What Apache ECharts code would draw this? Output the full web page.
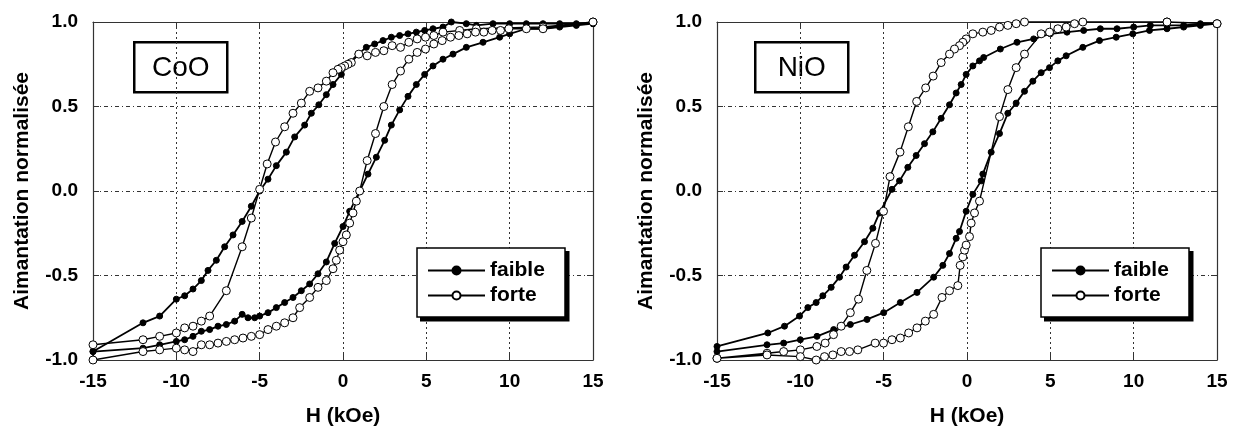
<!DOCTYPE html>
<html><head><meta charset="utf-8">
<script src="https://cdn.jsdelivr.net/npm/echarts@6/dist/echarts.min.js"></script>
<style>html,body{margin:0;padding:0;background:#fff}#c{width:1240px;height:434px}</style>
</head><body><div id="c"></div>
<script>
// ---------- data (H in kOe, normalised magnetisation) ----------
const xTicks = [-15, -10, -5, 0, 5, 10, 15];
const yTicks = [-1.0, -0.5, 0.0, 0.5, 1.0];
const panelLabels = ['CoO', 'NiO'];
const seriesNames = ['faible', 'forte'];
const xAxisTitle = 'H (kOe)';
const yAxisTitle = 'Aimantation normalisée';

// CoO - faible (descending then ascending branch)
const coFaibleDownH = [15, 14, 13, 12, 11, 10, 9, 8, 7.4, 6.5, 6, 5.4, 4.9, 4.4, 3.9, 3.4, 2.9, 2.4, 1.9, 1.4, 0.9, 0.4, -0.1, -0.6, -1.0, -1.45, -1.9, -2.3, -2.9, -3.4, -4.0, -4.5, -5.0, -5.5, -6.05, -6.6, -7.1, -7.6, -8.1, -8.5, -9.0, -9.5, -10, -11, -12, -15];
const coFaibleDownM = [0.99, 0.99, 0.99, 0.99, 0.99, 0.99, 0.99, 0.98, 0.99, 1.0, 0.97, 0.96, 0.95, 0.94, 0.93, 0.92, 0.91, 0.89, 0.87, 0.85, 0.81, 0.76, 0.69, 0.63, 0.57, 0.51, 0.46, 0.39, 0.32, 0.23, 0.15, 0.07, 0.0, -0.09, -0.18, -0.26, -0.33, -0.41, -0.47, -0.53, -0.58, -0.62, -0.64, -0.74, -0.78, -0.95];
const coFaibleUpH = [-15, -12, -11, -10, -9.5, -9, -8.5, -8, -7.5, -7, -6.5, -6.05, -5.7, -5.3, -5, -4.5, -4, -3.5, -3, -2.5, -2, -1.5, -1, -0.5, 0, 0.4, 1.0, 1.5, 2.0, 2.5, 2.9, 3.4, 3.9, 4.4, 4.9, 5.4, 6.0, 6.6, 7.4, 8.4, 9.4, 10, 11, 12, 13, 14, 15];
const coFaibleUpM = [-0.95, -0.93, -0.91, -0.89, -0.88, -0.86, -0.83, -0.82, -0.80, -0.79, -0.77, -0.73, -0.75, -0.75, -0.74, -0.72, -0.69, -0.66, -0.63, -0.59, -0.55, -0.49, -0.42, -0.31, -0.21, -0.12, 0.0, 0.10, 0.20, 0.30, 0.39, 0.48, 0.56, 0.63, 0.69, 0.74, 0.78, 0.81, 0.85, 0.88, 0.91, 0.93, 0.96, 0.96, 0.97, 0.98, 0.99];

// CoO - forte
const coForteDownH = [15, 12, 8, 7, 6, 5.45, 4.95, 4.45, 3.95, 3.45, 2.95, 2.45, 1.95, 1.45, 0.95, 0.5, 0.3, 0.1, -0.1, -0.3, -0.6, -1.0, -1.5, -2.0, -2.5, -3.0, -3.5, -4.05, -4.55, -5.0, -5.5, -6.05, -7.0, -8.0, -8.5, -9.0, -9.5, -10, -11, -12, -15];
const coForteDownM = [1.0, 0.97, 0.96, 0.95, 0.94, 0.92, 0.91, 0.90, 0.88, 0.85, 0.86, 0.83, 0.82, 0.80, 0.81, 0.76, 0.75, 0.74, 0.73, 0.72, 0.70, 0.65, 0.61, 0.59, 0.52, 0.46, 0.38, 0.29, 0.16, 0.01, -0.16, -0.33, -0.59, -0.74, -0.77, -0.80, -0.81, -0.84, -0.86, -0.88, -0.91];
const coForteUpH = [-15, -12, -11, -10, -9.5, -9, -8.5, -8, -7.5, -7, -6.5, -6, -5.5, -5, -4.5, -4, -3.5, -3, -2.6, -2, -1.5, -1, -0.6, -0.4, -0.2, 0, 0.2, 0.4, 0.6, 0.8, 1.0, 1.45, 1.95, 2.45, 2.95, 3.45, 3.95, 4.45, 4.95, 5.45, 5.95, 6.45, 6.95, 7.45, 7.95, 8.45, 8.95, 9.45, 9.95, 11, 12, 15];
const coForteUpM = [-1.0, -0.95, -0.94, -0.93, -0.94, -0.95, -0.91, -0.91, -0.90, -0.89, -0.88, -0.87, -0.86, -0.85, -0.82, -0.80, -0.78, -0.75, -0.69, -0.63, -0.57, -0.53, -0.46, -0.41, -0.35, -0.30, -0.26, -0.19, -0.13, -0.06, 0.0, 0.18, 0.34, 0.50, 0.63, 0.71, 0.78, 0.82, 0.84, 0.87, 0.89, 0.91, 0.92, 0.93, 0.94, 0.94, 0.95, 0.95, 0.96, 0.96, 0.96, 1.0];

// NiO - faible
const niFaibleDownH = [15, 14, 13, 12, 11, 10, 9, 8, 7, 6, 5, 4, 3, 2, 1, 0.75, 0.35, -0.05, -0.35, -0.65, -1.05, -1.55, -2.05, -2.55, -3.05, -3.55, -4.05, -4.5, -5.25, -5.65, -6.15, -6.75, -7.25, -7.65, -8.15, -8.65, -9.05, -9.55, -10.05, -10.95, -11.95, -15];
const niFaibleDownM = [0.99, 0.99, 0.98, 0.98, 0.98, 0.97, 0.96, 0.96, 0.95, 0.94, 0.93, 0.90, 0.88, 0.84, 0.79, 0.77, 0.74, 0.69, 0.63, 0.58, 0.51, 0.43, 0.35, 0.28, 0.21, 0.14, 0.06, 0.01, -0.13, -0.22, -0.30, -0.38, -0.45, -0.51, -0.57, -0.62, -0.66, -0.69, -0.74, -0.80, -0.84, -0.92];
const niFaibleUpH = [-15, -12, -11, -10, -9, -8, -7, -6, -5, -4, -3, -2, -1.45, -1.05, -0.65, -0.45, -0.05, 0.35, 0.85, 0.95, 1.45, 1.95, 2.45, 2.95, 3.45, 3.95, 4.45, 4.95, 5.45, 5.95, 6.95, 7.95, 8.95, 9.95, 10.95, 12, 13, 14, 15];
const niFaibleUpM = [-0.95, -0.91, -0.90, -0.88, -0.86, -0.82, -0.79, -0.76, -0.72, -0.66, -0.60, -0.51, -0.44, -0.37, -0.28, -0.24, -0.12, -0.02, 0.06, 0.10, 0.23, 0.34, 0.46, 0.52, 0.59, 0.65, 0.70, 0.73, 0.77, 0.80, 0.85, 0.89, 0.91, 0.93, 0.95, 0.96, 0.97, 0.98, 0.99];

// NiO - forte
const niForteDownH = [15, 12, 3.45, 2.95, 2.45, 1.95, 1.45, 0.95, 0.35, -0.05, -0.25, -0.45, -0.75, -1.05, -1.55, -2.03, -2.48, -3.02, -3.52, -4.02, -4.62, -5.01, -5.49, -6.01, -6.51, -7.0, -7.55, -8.01, -8.51, -9.01, -10, -11, -12, -15];
const niForteDownM = [0.99, 1.0, 1.0, 0.99, 0.98, 0.97, 0.95, 0.94, 0.93, 0.90, 0.88, 0.86, 0.84, 0.81, 0.76, 0.68, 0.61, 0.53, 0.38, 0.23, 0.085, -0.12, -0.31, -0.47, -0.64, -0.72, -0.80, -0.85, -0.90, -0.92, -0.94, -0.95, -0.96, -0.99];
const niForteUpH = [-15, -12, -10, -9.05, -8.55, -8.05, -7.55, -7.05, -6.55, -5.51, -5.01, -4.5, -4.0, -3.5, -3.0, -2.5, -2.0, -1.5, -1.05, -0.55, -0.41, -0.25, -0.15, -0.05, 0.15, 0.25, 0.45, 0.75, 1.95, 2.45, 2.95, 3.45, 4.45, 4.95, 5.45, 5.95, 6.45, 6.95, 12, 15];
const niForteUpM = [-0.99, -0.97, -0.98, -1.0, -0.98, -0.97, -0.95, -0.95, -0.94, -0.90, -0.90, -0.88, -0.87, -0.84, -0.81, -0.77, -0.73, -0.63, -0.59, -0.56, -0.44, -0.39, -0.35, -0.32, -0.27, -0.19, -0.13, -0.06, 0.44, 0.60, 0.73, 0.81, 0.93, 0.94, 0.96, 0.97, 0.99, 1.0, 1.0, 0.99];

// ---------- chart ----------
const FF = '"Liberation Sans", Arial, Helvetica, sans-serif';
const grids = [
  {left: 93, top: 22, width: 500, height: 338},
  {left: 717, top: 22, width: 500, height: 338}
];
const xStep = xTicks[1] - xTicks[0];
const yStep = yTicks[1] - yTicks[0];

function xAxisMain(gi) {
  return {
    type: 'value', gridIndex: gi, position: 'bottom',
    min: xTicks[0], max: xTicks[xTicks.length - 1], interval: xStep,
    axisLine: {show: true, onZero: false, lineStyle: {color: '#333', width: 1.2}},
    axisTick: {show: true, inside: true, length: 6, lineStyle: {color: '#333'}},
    axisLabel: {margin: 12, fontFamily: FF, fontSize: 19, fontWeight: 'bold', color: '#000'},
    splitLine: {show: true, lineStyle: {color: '#333', width: 1, type: [2, 3]}},
    name: xAxisTitle, nameLocation: 'middle', nameGap: 46,
    nameTextStyle: {fontFamily: FF, fontSize: 21, fontWeight: 'bold', color: '#000'}
  };
}
function xAxisTop(gi) {
  return {
    type: 'value', gridIndex: gi, position: 'top',
    min: xTicks[0], max: xTicks[xTicks.length - 1], interval: xStep,
    axisLine: {show: true, onZero: false, lineStyle: {color: '#333', width: 1.2}},
    axisTick: {show: true, inside: true, length: 6, lineStyle: {color: '#333'}},
    axisLabel: {show: false}, splitLine: {show: false}
  };
}
function yAxisMain(gi) {
  return {
    type: 'value', gridIndex: gi, position: 'left',
    min: yTicks[0], max: yTicks[yTicks.length - 1], interval: yStep,
    axisLine: {show: true, onZero: false, lineStyle: {color: '#333', width: 1.2}},
    axisTick: {show: true, inside: true, length: 6, lineStyle: {color: '#333'}},
    axisLabel: {margin: 15, fontFamily: FF, fontSize: 19, fontWeight: 'bold', color: '#000',
      formatter: v => v.toFixed(1)},
    splitLine: {show: true, lineStyle: {color: '#333', width: 1, type: [4, 3, 1, 3]}},
    name: yAxisTitle, nameLocation: 'middle', nameGap: 60, nameRotate: 90,
    nameTextStyle: {fontFamily: FF, fontSize: 21, fontWeight: 'bold', color: '#000'}
  };
}
function yAxisRight(gi) {
  return {
    type: 'value', gridIndex: gi, position: 'right',
    min: yTicks[0], max: yTicks[yTicks.length - 1], interval: yStep,
    axisLine: {show: true, onZero: false, lineStyle: {color: '#333', width: 1.2}},
    axisTick: {show: true, inside: true, length: 6, lineStyle: {color: '#333'}},
    axisLabel: {show: false}, splitLine: {show: false}
  };
}

function loop(name, downH, downM, upH, upM, axisIdx, filled) {
  const H = downH.concat(upH), M = downM.concat(upM);
  return {
    name: name, type: 'line', xAxisIndex: axisIdx, yAxisIndex: axisIdx,
    data: H.map((h, i) => [h, M[i]]),
    symbol: 'circle', symbolSize: filled ? 6 : 8, showAllSymbol: true,
    itemStyle: {color: filled ? '#000' : '#fff', borderColor: '#000', borderWidth: 1},
    lineStyle: {color: '#000', width: filled ? 1.8 : 1.4},
    clip: false, z: filled ? 3 : 4, animation: false
  };
}

const LEG_W = 148, LEG_H = 69, LEG_TOP = 248;
function legendAt(left) {
  return {
    left: left, top: LEG_TOP, orient: 'vertical', z: 10,
    data: seriesNames, selectedMode: false,
    itemWidth: 57, itemHeight: 10, itemGap: 4,
    padding: [12, 20, 12, 10],
    backgroundColor: 'transparent', borderWidth: 0,
    textStyle: {fontFamily: FF, fontSize: 21, fontWeight: 'bold', color: '#000', lineHeight: 20}
  };
}
function legendShadow(left) {
  return {type: 'rect', z: 7, silent: true,
          shape: {x: left + 3, y: LEG_TOP + 3, width: LEG_W + 1.5, height: LEG_H + 1.5},
          style: {fill: '#000'}};
}
function legendFrame(left) {
  return {type: 'rect', z: 8, silent: true,
          shape: {x: left, y: LEG_TOP, width: LEG_W, height: LEG_H},
          style: {fill: '#fff', stroke: '#000', lineWidth: 1.5}};
}

function labelBox(left, text) {
  return {
    type: 'group', left: left, top: 41, z: 10,
    children: [
      {type: 'rect', shape: {x: 0, y: 0, width: 93, height: 50},
       style: {fill: '#fff', stroke: '#000', lineWidth: 2.5}},
      {type: 'text', x: 46.5, y: 26,
       style: {text: text, fontFamily: FF, fontSize: 28, fill: '#000',
               align: 'center', verticalAlign: 'middle', textAlign: 'center', textVerticalAlign: 'middle'}}
    ]
  };
}

const chart = echarts.init(document.getElementById('c'), null, {renderer: 'canvas'});
chart.setOption({
  animation: false,
  backgroundColor: '#fff',
  grid: grids,
  xAxis: [xAxisMain(0), xAxisMain(1), xAxisTop(0), xAxisTop(1)],
  yAxis: [yAxisMain(0), yAxisMain(1), yAxisRight(0), yAxisRight(1)],
  legend: [legendAt(417), legendAt(1041)],
  graphic: {elements: [legendShadow(417), legendShadow(1041), legendFrame(417), legendFrame(1041),
                       labelBox(133, panelLabels[0]), labelBox(754, panelLabels[1])]},
  series: [
    loop(seriesNames[0], coFaibleDownH, coFaibleDownM, coFaibleUpH, coFaibleUpM, 0, true),
    loop(seriesNames[1], coForteDownH, coForteDownM, coForteUpH, coForteUpM, 0, false),
    loop(seriesNames[0], niFaibleDownH, niFaibleDownM, niFaibleUpH, niFaibleUpM, 1, true),
    loop(seriesNames[1], niForteDownH, niForteDownM, niForteUpH, niForteUpM, 1, false)
  ]
});
</script></body></html>
